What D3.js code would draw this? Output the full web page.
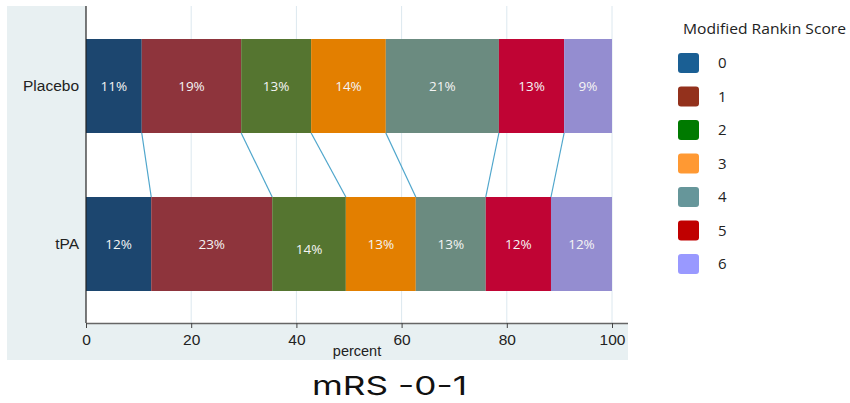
<!DOCTYPE html>
<html>
<head>
<meta charset="utf-8">
<script src="https://cdn.jsdelivr.net/npm/d3@7"></script>
<style>
  html, body { margin: 0; padding: 0; background: #fff; }
  svg { display: block; }
</style>
</head>
<body>
<div id="chart"></div>
<script>
const groups = ["Placebo", "tPA"];
const scores = ["0", "1", "2", "3", "4", "5", "6"];
const placeboValues = [10.6, 18.9, 13.3, 14.2, 21.5, 12.4, 9.1];
const tpaValues = [12.4, 23.0, 14.0, 13.3, 13.3, 12.4, 11.6];
const placeboLabels = ["11%", "19%", "13%", "14%", "21%", "13%", "9%"];
const tpaLabels = ["12%", "23%", "14%", "13%", "13%", "12%", "12%"];
const xTicks = [0, 20, 40, 60, 80, 100];
const barColors = ["#1c466f", "#8e343c", "#557530", "#e37f00", "#6b8b80", "#c00434", "#948dd0"];
const legendColors = ["#1a5f94", "#93311c", "#007a00", "#ff9933", "#66969a", "#c00000", "#9999ff"];
const legendTitle = "Modified Rankin Score";
const xTitle = "percent";
const chartTitle = "mRS -0-1";

const W = 850, H = 403;
const svg = d3.select("#chart").append("svg").attr("width", W).attr("height", H);
svg.append("rect").attr("width", W).attr("height", H).attr("fill", "#fff");

// outer panel
svg.append("rect").attr("x", 7).attr("y", 6).attr("width", 621).attr("height", 354).attr("fill", "#e8f0f2");
// plot region
svg.append("rect").attr("x", 86).attr("y", 6).attr("width", 542).attr("height", 317).attr("fill", "#fff");

const x = d3.scaleLinear().domain([0, 100]).range([86, 612]);
const y = d3.scalePoint().domain(groups).range([86, 244]);
const barH = 94;

// gridlines
svg.append("g").selectAll("line").data(xTicks.slice(1)).join("line")
  .attr("x1", d => x(d)).attr("x2", d => x(d)).attr("y1", 6).attr("y2", 323)
  .attr("stroke", "#dce8ef").attr("stroke-width", 1);

const data = [
  { g: "Placebo", vals: placeboValues, labels: placeboLabels },
  { g: "tPA", vals: tpaValues, labels: tpaLabels }
];
data.forEach(d => {
  let c = 0;
  d.segs = d.vals.map((v, i) => { const s = { x0: c, x1: c + v, i, label: d.labels[i] }; c += v; return s; });
});

// connectors
const conn = svg.append("g");
for (let i = 0; i < scores.length - 1; i++) {
  conn.append("line")
    .attr("x1", x(data[0].segs[i].x1)).attr("y1", y("Placebo") + barH / 2)
    .attr("x2", x(data[1].segs[i].x1)).attr("y2", y("tPA") - barH / 2)
    .attr("stroke", "#4fa6cc").attr("stroke-width", 1.2);
}

// bars
data.forEach(d => {
  const g = svg.append("g");
  g.selectAll("rect").data(d.segs).join("rect")
    .attr("x", s => x(s.x0)).attr("width", s => x(s.x1) - x(s.x0))
    .attr("y", y(d.g) - barH / 2).attr("height", barH)
    .attr("fill", s => barColors[s.i]);
  g.selectAll("text").data(d.segs).join("text")
    .attr("x", s => (x(s.x0) + x(s.x1)) / 2)
    .attr("y", s => y(d.g) + (d.g === "tPA" && s.i === 2 ? 5 : 0))
    .attr("dy", "0.35em")
    .attr("text-anchor", "middle")
    .attr("fill", "#f4f4f4")
    .attr("font-family", "Open Sans, sans-serif")
    .attr("font-size", 13.5)
    .text(s => s.label);
});

// y axis line
svg.append("line").attr("x1", 86).attr("x2", 86).attr("y1", 6).attr("y2", 323)
  .attr("stroke", "#222").attr("stroke-width", 1.2);

// y labels
svg.append("g").selectAll("text").data(groups).join("text")
  .attr("x", 79).attr("y", d => y(d)).attr("dy", "0.35em")
  .attr("text-anchor", "end")
  .attr("font-family", "Liberation Sans, Arial, sans-serif")
  .attr("font-size", 15.5).attr("fill", "#222")
  .text(d => d);

// x axis
const xAxis = svg.append("g").attr("transform", "translate(0,323)")
  .call(d3.axisBottom(x).tickValues(xTicks).tickSize(5).tickPadding(6).tickFormat(d3.format("d")));
xAxis.select(".domain").attr("d", "M86,0.5H628").attr("stroke", "#666").attr("stroke-width", 1.5);
xAxis.selectAll(".tick line").attr("stroke", "#444");
xAxis.selectAll(".tick text").attr("font-family", "Liberation Sans, Arial, sans-serif")
  .attr("font-size", 15.5).attr("fill", "#222");

svg.append("text").attr("x", 357).attr("y", 356)
  .attr("text-anchor", "middle")
  .attr("font-family", "Liberation Sans, Arial, sans-serif")
  .attr("font-size", 14.5).attr("fill", "#222")
  .text(xTitle);

// legend
svg.append("text").attr("x", 683).attr("y", 34)
  .attr("font-family", "Open Sans, sans-serif").attr("font-size", 14.5).attr("fill", "#222")
  .attr("textLength", 163).attr("lengthAdjust", "spacingAndGlyphs")
  .text(legendTitle);
const leg = svg.append("g").selectAll("g").data(scores).join("g")
  .attr("transform", (d, i) => `translate(678,${53 + i * 33.5})`);
leg.append("rect").attr("width", 21).attr("height", 20).attr("rx", 3)
  .attr("fill", (d, i) => legendColors[i]);
leg.append("text").attr("x", 40).attr("y", 10).attr("dy", "0.35em")
  .attr("font-family", "Open Sans, sans-serif").attr("font-size", 15).attr("fill", "#222")
  .text(d => d);

// title
svg.append("text").attr("x", 312).attr("y", 395)
  .attr("font-family", "Inter, Open Sans, sans-serif").attr("font-size", 26).attr("fill", "#111")
  .attr("textLength", 155).attr("lengthAdjust", "spacingAndGlyphs")
  .text(chartTitle);
</script>
</body>
</html>
